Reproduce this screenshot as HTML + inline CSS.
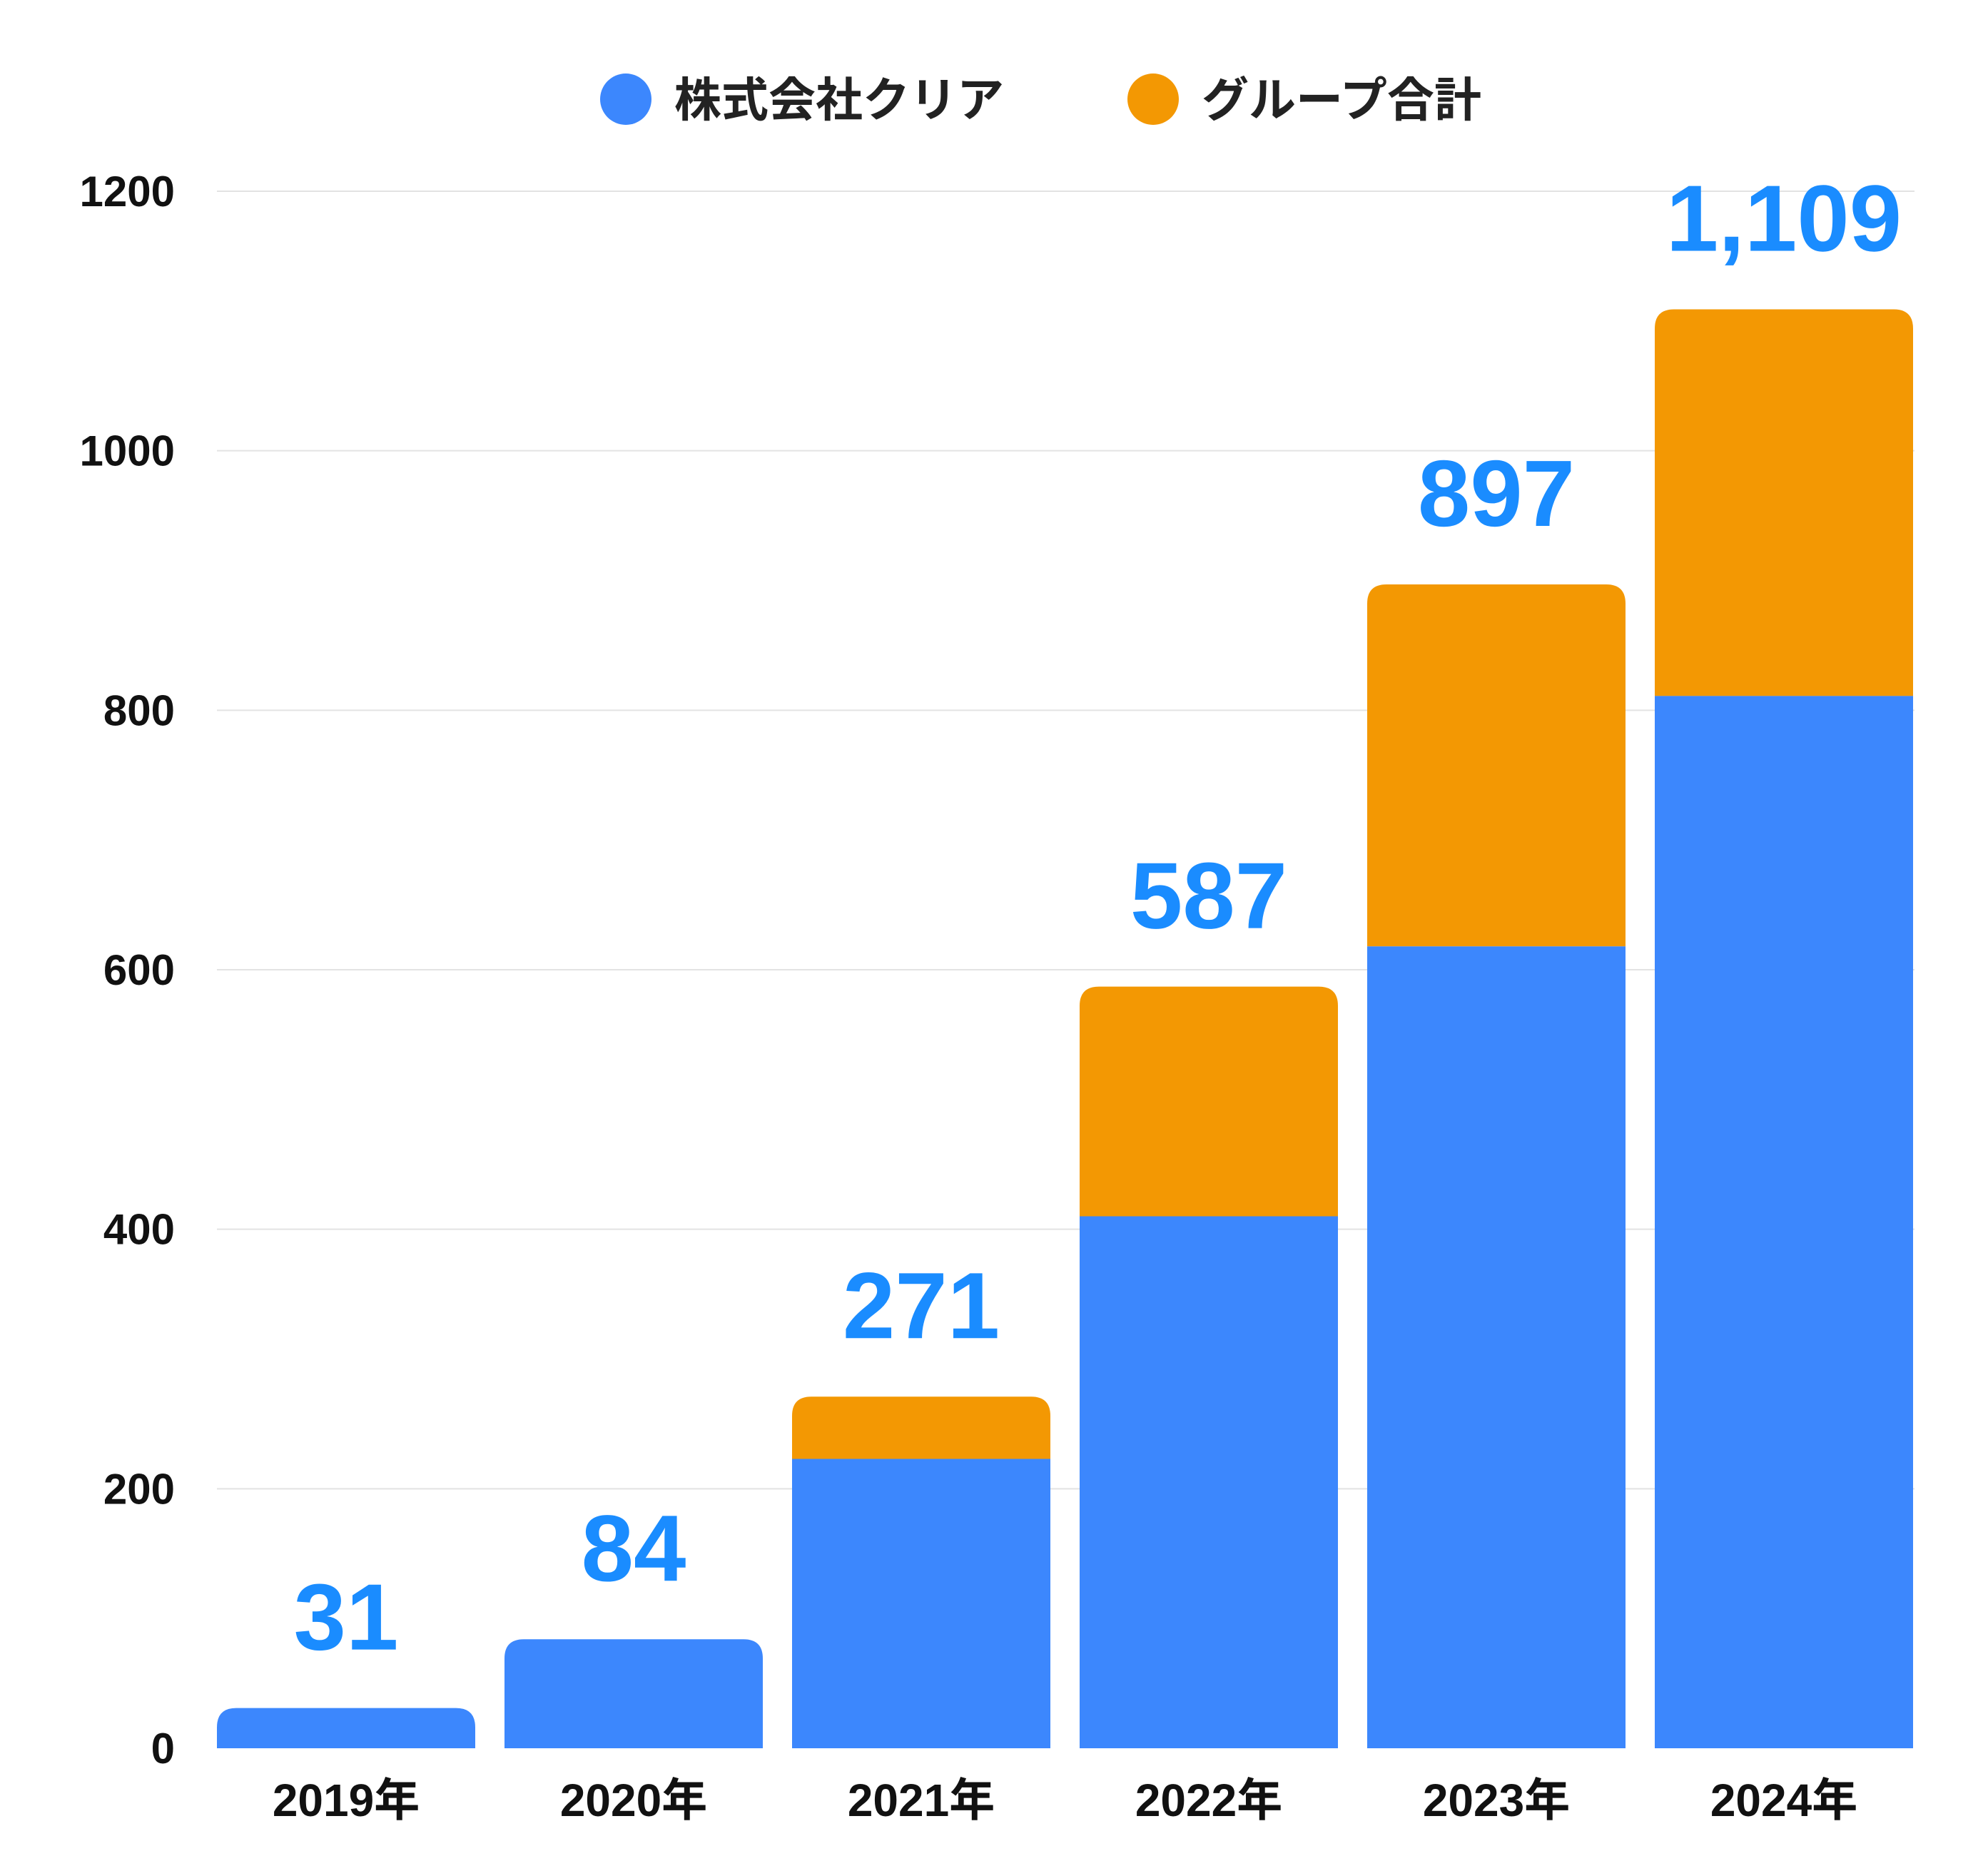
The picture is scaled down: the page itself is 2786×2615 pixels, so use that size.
<!DOCTYPE html>
<html><head><meta charset="utf-8"><style>
html,body{margin:0;padding:0;background:#fff;}
svg text{font-family:"Liberation Sans","Noto Sans CJK JP",sans-serif;}
</style></head><body>
<svg width="2786" height="2610" xmlns="http://www.w3.org/2000/svg" id="chart">
<g id="legend">
 <g>
  <circle cx="877" cy="139" r="36" fill="#3c87fd"/>
  <text x="945" y="163" font-size="66" font-weight="bold" fill="#222">株式会社クリア</text>
 </g>
 <g>
  <circle cx="1616" cy="139" r="36" fill="#f39803"/>
  <text x="1684" y="163" font-size="66" font-weight="bold" fill="#222">グループ合計</text>
 </g>
</g>
<g id="grid"></g>
<g id="bars"></g>
<g id="labels"></g>
</svg>
<script>
const categories = ["2019年","2020年","2021年","2022年","2023年","2024年"];
const clearValues = [31, 84, 223, 410, 618, 811];
const totalValues = [31, 84, 271, 587, 897, 1109];
const totalLabels = ["31","84","271","587","897","1,109"];
const yTicks = [0,200,400,600,800,1000,1200];

const NS="http://www.w3.org/2000/svg";
const y0=2450, y1=268, yMax=1200;
const xLeft=304, step=403, barW=362, rad=27, gridRight=2683;
function y(v){return y0-(y0-y1)*v/yMax;}
function xb(i){return xLeft+i*step;}
function mk(tag,attrs,parent){const e=document.createElementNS(NS,tag);for(const k in attrs)e.setAttribute(k,attrs[k]);parent.appendChild(e);return e;}
function topRounded(x,yt,w,yb,r){r=Math.min(r,(yb-yt)/2);return `M${x},${yb}V${yt+r}Q${x},${yt} ${x+r},${yt}H${x+w-r}Q${x+w},${yt} ${x+w},${yt+r}V${yb}Z`;}

const grid=document.getElementById('grid');
yTicks.forEach(t=>{
  if(t>0){const l=mk('line',{x1:xLeft,x2:gridRight,y1:y(t),y2:y(t),stroke:'#e3e3e3','stroke-width':2},grid);
  
  }
  const tx=mk('text',{x:245,y:y(t)+21,'text-anchor':'end','font-size':60,'font-weight':'bold',fill:'#111'},grid);
  tx.textContent=t;
  
  
});

const bars=document.getElementById('bars'), labels=document.getElementById('labels');
categories.forEach((c,i)=>{
  const x=xb(i), tot=totalValues[i], cl=clearValues[i];
  if(tot>cl){
    const o=mk('path',{d:topRounded(x,y(tot),barW,y(cl),rad),fill:'#f39803'},bars);
    
    
    const b=mk('rect',{x:x,y:y(cl),width:barW,height:y0-y(cl),fill:'#3c87fd'},bars);
    
    
  } else {
    const b=mk('path',{d:topRounded(x,y(cl),barW,y0,rad),fill:'#3c87fd'},bars);
    
    
  }
  const v=mk('text',{x:x+barW/2,y:y(tot)-82,'text-anchor':'middle','font-size':132,'font-weight':'bold',fill:'#1a8cff'},labels);
  v.textContent=totalLabels[i];
  
  
  const xl=mk('text',{x:x+barW/2,y:2545,'text-anchor':'middle','font-size':64,'font-weight':'bold',fill:'#111'},labels);
  xl.textContent=c;
  
  
});
</script>
</body></html>
